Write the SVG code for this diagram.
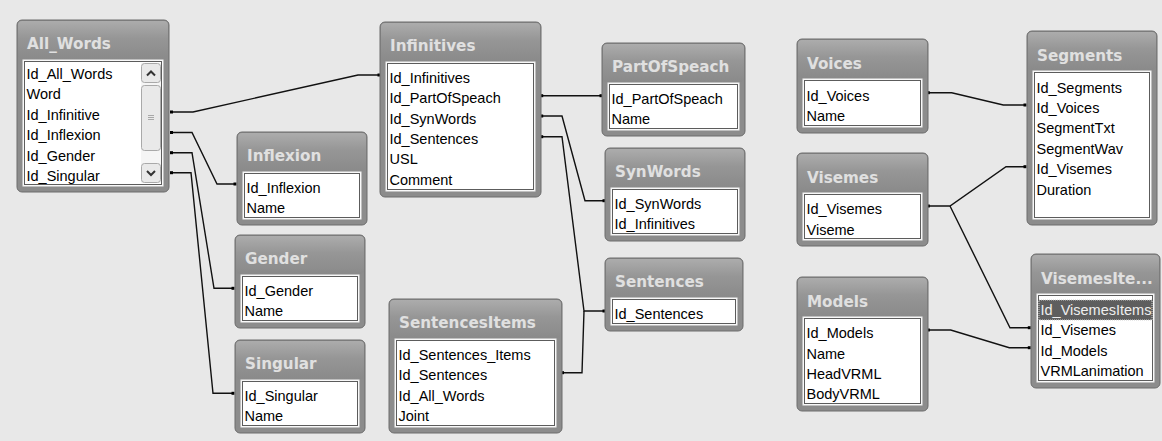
<svg xmlns="http://www.w3.org/2000/svg" width="1162" height="441" viewBox="0 0 1162 441">
<defs>
<linearGradient id="tg" x1="0" y1="0" x2="0" y2="1">
<stop offset="0" stop-color="#acacac"/>
<stop offset="0.45" stop-color="#969696"/>
<stop offset="1" stop-color="#8a8a8a"/>
</linearGradient>
<style>
.frame{fill:#8c8c8c;stroke:#6c6c6c;stroke-width:1}
.tbar{fill:url(#tg);stroke:none}
.title{font-family:"DejaVu Sans",sans-serif;font-weight:bold;font-size:15.2px;fill:#e0e0e0}
.list{fill:#ffffff;stroke:#f2f2f2;stroke-width:1}
.edge{fill:none;stroke:#5c5c5c;stroke-width:1}
.f{font-family:"Liberation Sans",Arial,sans-serif;font-size:14.5px;fill:#000}
.conn{fill:none;stroke:#111;stroke-width:1.4}
.dot{fill:#000}
.btn{fill:#e9e9e9;stroke:#a9a9a9;stroke-width:1}
.chev{fill:none;stroke:#333;stroke-width:2}
.grip{stroke:#a8a8a8;stroke-width:1}
</style>
</defs>
<rect width="1162" height="441" fill="#e8e8e8"/>

<g id="connectors">
<path class="conn" d="M171.5,112 H193 L358,75 H379"/>
<path class="conn" d="M171.5,132.5 H192 L217,184 H235"/>
<path class="conn" d="M171.5,152.7 H192 L214,288.3 H233"/>
<path class="conn" d="M171.5,172.7 H191 L213,393.3 H233"/>
<path class="conn" d="M541.7,95.7 H601"/>
<path class="conn" d="M541.7,116 H562 L585,200.7 H604"/>
<path class="conn" d="M541.7,136.7 H562 L584,311 H604"/>
<path class="conn" d="M562.5,372.7 H582 L584,311"/>
<path class="conn" d="M928.3,92.7 H951.7 L1003.3,105 H1025"/>
<path class="conn" d="M928.3,206 H950 L1006,166.7 H1025"/>
<path class="conn" d="M950,206 L1010,327.7 H1029.3"/>
<path class="conn" d="M928.3,330 H950.7 L1009.3,347.7 H1029.3"/>
<rect class="dot" x="170" y="110.5" width="3" height="3"/>
<rect class="dot" x="377.5" y="73.5" width="3" height="3"/>
<rect class="dot" x="170" y="131" width="3" height="3"/>
<rect class="dot" x="233.5" y="182.5" width="3" height="3"/>
<rect class="dot" x="170" y="151.2" width="3" height="3"/>
<rect class="dot" x="231.5" y="286.8" width="3" height="3"/>
<rect class="dot" x="170" y="171.2" width="3" height="3"/>
<rect class="dot" x="231.5" y="391.8" width="3" height="3"/>
<rect class="dot" x="540.2" y="94.2" width="3" height="3"/>
<rect class="dot" x="599.5" y="94.2" width="3" height="3"/>
<rect class="dot" x="540.2" y="114.5" width="3" height="3"/>
<rect class="dot" x="602.5" y="199.2" width="3" height="3"/>
<rect class="dot" x="540.2" y="135.2" width="3" height="3"/>
<rect class="dot" x="602.5" y="309.5" width="3" height="3"/>
<rect class="dot" x="561" y="371.2" width="3" height="3"/>
<rect class="dot" x="926.8" y="91.2" width="3" height="3"/>
<rect class="dot" x="1023.5" y="103.5" width="3" height="3"/>
<rect class="dot" x="926.8" y="204.5" width="3" height="3"/>
<rect class="dot" x="1023.5" y="165.2" width="3" height="3"/>
<rect class="dot" x="1027.8" y="326.2" width="3" height="3"/>
<rect class="dot" x="926.8" y="328.5" width="3" height="3"/>
<rect class="dot" x="1027.8" y="346.2" width="3" height="3"/>
</g>

<g id="node-all-words" transform="translate(17,20)">
<rect class="frame" width="152" height="172" rx="5"/>
<rect class="tbar" x="1" y="1" width="150" height="38" rx="4"/>
<text class="title" x="10" y="29">All_Words</text>
<rect class="list" x="6" y="40" width="140" height="126"/>
<rect class="edge" x="7.5" y="41.5" width="137" height="123"/>
<rect x="124" y="43" width="20" height="120" fill="#f5f5f5"/>
<rect class="btn" x="124.5" y="43.5" width="19" height="19" rx="3"/>
<polyline class="chev" points="130,55.5 134,51.5 138,55.5"/>
<rect class="btn" x="124.5" y="65.5" width="19" height="65" rx="3"/>
<line class="grip" x1="131" y1="95.5" x2="137" y2="95.5"/>
<line class="grip" x1="131" y1="97.5" x2="137" y2="97.5"/>
<line class="grip" x1="131" y1="99.5" x2="137" y2="99.5"/>
<rect class="btn" x="124.5" y="143.5" width="19" height="19" rx="3"/>
<polyline class="chev" points="130,151 134,155 138,151"/>
<text class="f" x="9.5" y="58.5">Id_All_Words</text>
<text class="f" x="9.5" y="79">Word</text>
<text class="f" x="9.5" y="99.5">Id_Infinitive</text>
<text class="f" x="9.5" y="120">Id_Inflexion</text>
<text class="f" x="9.5" y="140.5">Id_Gender</text>
<text class="f" x="9.5" y="161">Id_Singular</text>
</g>

<g id="node-inflexion" transform="translate(237,132)">
<rect class="frame" width="130" height="93" rx="5"/>
<rect class="tbar" x="1" y="1" width="128" height="38" rx="4"/>
<text class="title" x="10" y="29">Inflexion</text>
<rect class="list" x="6" y="40" width="118" height="47"/>
<rect class="edge" x="7.5" y="41.5" width="115" height="44"/>
<text class="f" x="9.5" y="61">Id_Inflexion</text>
<text class="f" x="9.5" y="81.3">Name</text>
</g>

<g id="node-gender" transform="translate(235,235)">
<rect class="frame" width="130" height="93" rx="5"/>
<rect class="tbar" x="1" y="1" width="128" height="38" rx="4"/>
<text class="title" x="10" y="29">Gender</text>
<rect class="list" x="6" y="40" width="118" height="47"/>
<rect class="edge" x="7.5" y="41.5" width="115" height="44"/>
<text class="f" x="9.5" y="61">Id_Gender</text>
<text class="f" x="9.5" y="81.3">Name</text>
</g>

<g id="node-singular" transform="translate(235,340)">
<rect class="frame" width="130" height="93" rx="5"/>
<rect class="tbar" x="1" y="1" width="128" height="38" rx="4"/>
<text class="title" x="10" y="29">Singular</text>
<rect class="list" x="6" y="40" width="118" height="47"/>
<rect class="edge" x="7.5" y="41.5" width="115" height="44"/>
<text class="f" x="9.5" y="61">Id_Singular</text>
<text class="f" x="9.5" y="81.3">Name</text>
</g>

<g id="node-infinitives" transform="translate(380,22)">
<rect class="frame" width="161" height="175" rx="5"/>
<rect class="tbar" x="1" y="1" width="159" height="38" rx="4"/>
<text class="title" x="10" y="29">Infinitives</text>
<rect class="list" x="6" y="40" width="149" height="129"/>
<rect class="edge" x="7.5" y="41.5" width="146" height="126"/>
<text class="f" x="9.5" y="61">Id_Infinitives</text>
<text class="f" x="9.5" y="81.3">Id_PartOfSpeach</text>
<text class="f" x="9.5" y="101.6">Id_SynWords</text>
<text class="f" x="9.5" y="121.9">Id_Sentences</text>
<text class="f" x="9.5" y="142.2">USL</text>
<text class="f" x="9.5" y="162.5">Comment</text>
</g>

<g id="node-partofspeach" transform="translate(602,43)">
<rect class="frame" width="143" height="93" rx="5"/>
<rect class="tbar" x="1" y="1" width="141" height="38" rx="4"/>
<text class="title" x="10" y="29">PartOfSpeach</text>
<rect class="list" x="6" y="40" width="131" height="47"/>
<rect class="edge" x="7.5" y="41.5" width="128" height="44"/>
<text class="f" x="9.5" y="61">Id_PartOfSpeach</text>
<text class="f" x="9.5" y="81.3">Name</text>
</g>

<g id="node-synwords" transform="translate(605,148)">
<rect class="frame" width="140" height="93" rx="5"/>
<rect class="tbar" x="1" y="1" width="138" height="38" rx="4"/>
<text class="title" x="10" y="29">SynWords</text>
<rect class="list" x="6" y="40" width="128" height="47"/>
<rect class="edge" x="7.5" y="41.5" width="125" height="44"/>
<text class="f" x="9.5" y="61">Id_SynWords</text>
<text class="f" x="9.5" y="81.3">Id_Infinitives</text>
</g>

<g id="node-sentences" transform="translate(605,258)">
<rect class="frame" width="138" height="73" rx="5"/>
<rect class="tbar" x="1" y="1" width="136" height="38" rx="4"/>
<text class="title" x="10" y="29">Sentences</text>
<rect class="list" x="6" y="40" width="126" height="27"/>
<rect class="edge" x="7.5" y="41.5" width="123" height="24"/>
<text class="f" x="9.5" y="60.5">Id_Sentences</text>
</g>

<g id="node-sentencesitems" transform="translate(389,299)">
<rect class="frame" width="173" height="134" rx="5"/>
<rect class="tbar" x="1" y="1" width="171" height="38" rx="4"/>
<text class="title" x="10" y="29">SentencesItems</text>
<rect class="list" x="6" y="40" width="161" height="88"/>
<rect class="edge" x="7.5" y="41.5" width="158" height="85"/>
<text class="f" x="9.5" y="61">Id_Sentences_Items</text>
<text class="f" x="9.5" y="81.3">Id_Sentences</text>
<text class="f" x="9.5" y="101.6">Id_All_Words</text>
<text class="f" x="9.5" y="121.9">Joint</text>
</g>

<g id="node-voices" transform="translate(797,39)">
<rect class="frame" width="131" height="94" rx="5"/>
<rect class="tbar" x="1" y="1" width="129" height="38" rx="4"/>
<text class="title" x="10" y="29.5">Voices</text>
<rect class="list" x="6" y="40" width="119" height="48"/>
<rect class="edge" x="7.5" y="41.5" width="116" height="45"/>
<text class="f" x="9.5" y="61.5">Id_Voices</text>
<text class="f" x="9.5" y="81.8">Name</text>
</g>

<g id="node-visemes" transform="translate(797,153)">
<rect class="frame" width="131" height="93" rx="5"/>
<rect class="tbar" x="1" y="1" width="129" height="38" rx="4"/>
<text class="title" x="10" y="29.5">Visemes</text>
<rect class="list" x="6" y="40" width="119" height="47"/>
<rect class="edge" x="7.5" y="41.5" width="116" height="44"/>
<text class="f" x="9.5" y="61.3">Id_Visemes</text>
<text class="f" x="9.5" y="81.6">Viseme</text>
</g>

<g id="node-models" transform="translate(797,277)">
<rect class="frame" width="131" height="134" rx="5"/>
<rect class="tbar" x="1" y="1" width="129" height="38" rx="4"/>
<text class="title" x="10" y="29.5">Models</text>
<rect class="list" x="6" y="40" width="119" height="88"/>
<rect class="edge" x="7.5" y="41.5" width="116" height="85"/>
<text class="f" x="9.5" y="61.3">Id_Models</text>
<text class="f" x="9.5" y="81.6">Name</text>
<text class="f" x="9.5" y="101.9">HeadVRML</text>
<text class="f" x="9.5" y="122.2">BodyVRML</text>
</g>

<g id="node-segments" transform="translate(1027,31)">
<rect class="frame" width="130" height="194" rx="5"/>
<rect class="tbar" x="1" y="1" width="128" height="38" rx="4"/>
<text class="title" x="10" y="29.5">Segments</text>
<rect class="list" x="6" y="40" width="118" height="148"/>
<rect class="edge" x="7.5" y="41.5" width="115" height="145"/>
<text class="f" x="9.5" y="61.5">Id_Segments</text>
<text class="f" x="9.5" y="81.9">Id_Voices</text>
<text class="f" x="9.5" y="102.3">SegmentTxt</text>
<text class="f" x="9.5" y="122.7">SegmentWav</text>
<text class="f" x="9.5" y="143.1">Id_Visemes</text>
<text class="f" x="9.5" y="163.5">Duration</text>
</g>

<g id="node-visemesitems" transform="translate(1031,254)">
<rect class="frame" width="129" height="134" rx="5"/>
<rect class="tbar" x="1" y="1" width="127" height="38" rx="4"/>
<text class="title" x="10" y="29.5">VisemesIte...</text>
<rect class="list" x="6" y="40" width="117" height="88"/>
<rect class="edge" x="7.5" y="41.5" width="114" height="85"/>
<rect x="8" y="46" width="113" height="20" fill="#5e5e5e" stroke="#cfcfcf" stroke-width="1" stroke-dasharray="1 1"/>
<text class="f" x="9.5" y="61" style="fill:#eeeeee">Id_VisemesItems</text>
<text class="f" x="9.5" y="81.3">Id_Visemes</text>
<text class="f" x="9.5" y="101.6">Id_Models</text>
<text class="f" x="9.5" y="121.9">VRMLanimation</text>
</g>
</svg>
